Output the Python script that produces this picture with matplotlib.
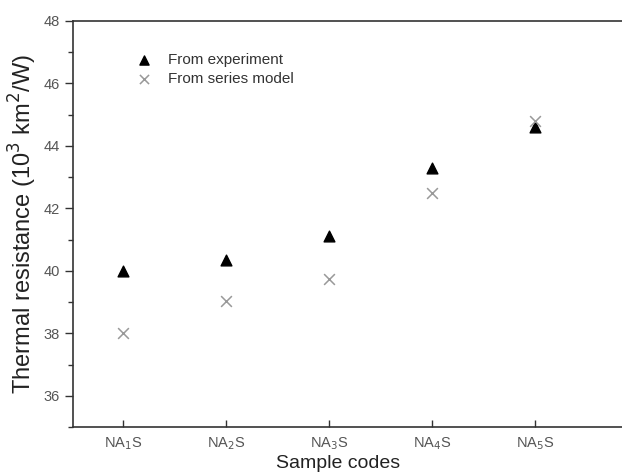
import matplotlib
matplotlib.use("Agg")
import matplotlib.pyplot as plt
from matplotlib.ticker import MultipleLocator

plt.rcParams['font.family'] = ['Liberation Sans', 'DejaVu Sans']

samples = ["NA$_1$S", "NA$_2$S", "NA$_3$S", "NA$_4$S", "NA$_5$S"]
experiment = [40.0, 40.35, 41.1, 43.3, 44.6]
series_model = [38.0, 39.05, 39.75, 42.5, 44.8]
x = list(range(1, len(samples) + 1))

fig = plt.figure(figsize=(6.22, 4.74), dpi=100)
# axes extend past the right edge of the figure, as in the reference (no right spine visible)
ax = fig.add_axes([73/622, 1 - 427/474, (700-73)/622, (427-21)/474])

ax.scatter(x, experiment, marker='^', s=60, color='black', label='From experiment', zorder=3)
ax.scatter(x, series_model, marker='x', s=60, color='#999999', linewidths=1.1, label='From series model', zorder=3)

ax.set_xlim(0.51, 0.51 + (700-73)/103.0)
ax.set_ylim(35, 48)
ax.set_xticks(x)
ax.set_xticklabels(samples)
ax.yaxis.set_major_locator(MultipleLocator(2))
ax.yaxis.set_minor_locator(MultipleLocator(1))
ax.tick_params(axis='x', direction='in', length=5, width=1, colors='#333333', labelsize=10.5, labelcolor='#555555', pad=6)
ax.tick_params(axis='y', which='major', direction='out', length=6, width=1, colors='#333333', labelsize=10.5, labelcolor='#555555')
ax.tick_params(axis='y', which='minor', direction='out', length=3.5, width=1, colors='#333333')
for s in ax.spines.values():
    s.set_linewidth(1.2)
    s.set_color('#333333')
ax.spines['right'].set_visible(False)

ax.set_ylabel("Thermal resistance (10$^3$ km$^2$/W)", fontsize=17, color='#222222', labelpad=3)
ax.set_xlabel("Sample codes", fontsize=14, color='#222222')
ax.xaxis.set_label_coords((338-73)/(700-73), -0.07)

leg = ax.legend(loc='upper left', bbox_to_anchor=(42/627, 0.955), frameon=False, fontsize=11,
                handletextpad=0.6, labelspacing=0.35, markerscale=0.85)
for t in leg.get_texts():
    t.set_color('#333333')

fig.savefig("out.png", dpi=100)
